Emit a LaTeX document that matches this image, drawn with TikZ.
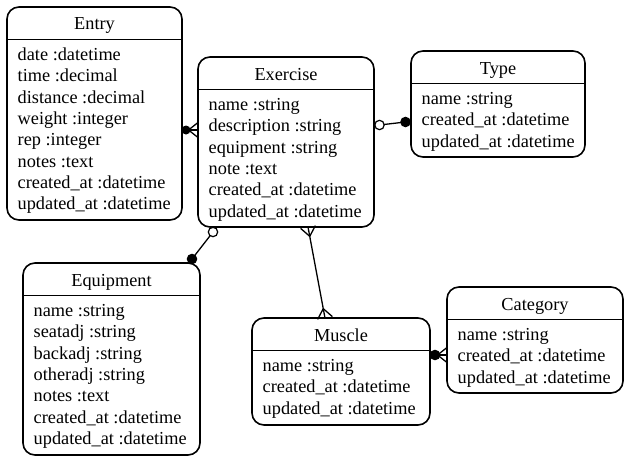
\documentclass[tikz,border=0pt]{standalone}
\usepackage{fontspec}
\setmainfont{Liberation Serif}
\usetikzlibrary{calc}
\tikzset{
  ebox/.style={draw, line width=1.6pt, rounded corners=12pt, rectangle, inner sep=0pt},
  sepline/.style={line width=1.6pt},
  ttl/.style={anchor=base, inner sep=0pt, font=\fontsize{18.3}{21}\selectfont},
  attr/.style={anchor=base west, inner sep=0pt, font=\fontsize{18.3}{21}\selectfont},
  conn/.style={line width=1.3pt},
  opendot/.style={draw, fill=white, line width=1.2pt},
}
\newcommand\erbox[7]{%
  \node[ebox, minimum width={(#4-#2)*1pt}, minimum height={(#5-#3)*1pt}] (#1) at ({(#2+#4)/2},{(#3+#5)/2}) {};
  \draw[sepline] (#2,#3+32.5) -- (#4,#3+32.5);
  \node[ttl] (#1-t) at ({(#2+#4)/2},#3+23) {#6};
  \foreach \a [count=\i] in {#7} {\node[attr] (#1-a\i) at (#2+10.5,{#3+53.5+(\i-1)*21.3}) {\a};}
}
\newcommand\crowend[2]{%
  \draw[conn] ($(#1)!9.5pt!(#2)$) -- ($(#1)!7.5pt!90:(#2)$)
              ($(#1)!9.5pt!(#2)$) -- ($(#1)!7.5pt!-90:(#2)$);
}
\begin{document}
\begin{tikzpicture}[x=1pt,y=-1pt]
\useasboundingbox (0,0) rectangle (630,463);

\erbox{entry}{7}{7}{182}{220}{Entry}{date :datetime,time :decimal,distance :decimal,weight :integer,rep :integer,notes :text,created\_at :datetime,updated\_at :datetime}
\erbox{exercise}{198}{57}{374}{227}{Exercise}{name :string,description :string,equipment :string,note :text,created\_at :datetime,updated\_at :datetime}
\erbox{type}{411}{51}{585}{157}{Type}{name :string,created\_at :datetime,updated\_at :datetime}
\erbox{equipment}{23}{263}{200}{455}{Equipment}{name :string,seatadj :string,backadj :string,otheradj :string,notes :text,created\_at :datetime,updated\_at :datetime}
\erbox{muscle}{252}{318}{430}{425}{Muscle}{name :string,created\_at :datetime,updated\_at :datetime}
\erbox{category}{447}{287}{623}{393}{Category}{name :string,created\_at :datetime,updated\_at :datetime}

% Entry -- Exercise
\coordinate (p1) at (182,130);
\coordinate (q1) at (198,130);
\coordinate (d1) at (186,130);
\draw[conn] (p1) -- (q1);
\fill (d1) circle (4.5pt);
\crowend{q1}{p1}

% Exercise -- Type
\coordinate (p2) at (379.5,125);
\coordinate (q2) at (405.5,122);
\draw[conn] (p2) -- (q2);
\draw[opendot] (p2) circle (4.7pt);
\fill (q2) circle (5.3pt);

% Exercise -- Equipment
\coordinate (p3) at (213,232);
\coordinate (q3) at (192,259);
\draw[conn] (p3) -- (q3);
\draw[opendot] (p3) circle (4.7pt);
\fill (q3) circle (5.3pt);

% Exercise -- Muscle
\coordinate (p4) at (308,227);
\coordinate (q4) at (325,318);
\draw[conn] (p4) -- (q4);
\crowend{p4}{q4}
\crowend{q4}{p4}

% Muscle -- Category
\coordinate (p5) at (430,355);
\coordinate (q5) at (447,355);
\coordinate (d5) at (435,355);
\draw[conn] (p5) -- (q5);
\fill (d5) circle (5.3pt);
\crowend{q5}{p5}
\end{tikzpicture}
\end{document}
